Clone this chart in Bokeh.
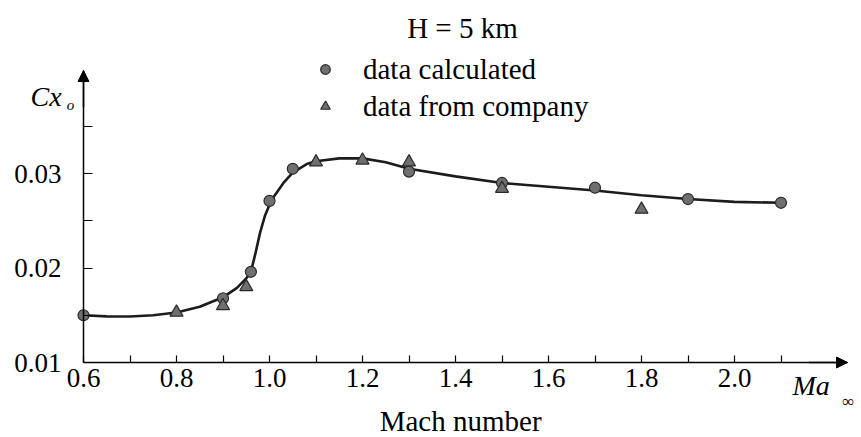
from bokeh.plotting import figure
from bokeh.models import (Label, Arrow, NormalHead, FixedTicker, NumeralTickFormatter,
                          Range1d, LinearAxis, Legend, LegendItem)
from bokeh.embed import file_html
from bokeh.resources import INLINE

# ---- data ----
calc_mach = [0.6, 0.9, 0.96, 1.0, 1.05, 1.3, 1.5, 1.7, 1.9, 2.1]
calc_cx = [0.0150, 0.0168, 0.0196, 0.0271, 0.0305, 0.0302, 0.0290, 0.0285, 0.0273, 0.0269]

comp_mach = [0.8, 0.9, 0.95, 1.1, 1.2, 1.3, 1.5, 1.8]
comp_cx = [0.0153, 0.0160, 0.0180, 0.0312, 0.0314, 0.0312, 0.0284, 0.0262]

fit_mach = [0.6, 0.65, 0.7, 0.75, 0.8, 0.85, 0.9, 0.93, 0.95, 0.96, 0.97, 0.98, 0.99,
            1.0, 1.01, 1.03, 1.05, 1.08, 1.1, 1.15, 1.2, 1.25, 1.3, 1.4, 1.5, 1.6,
            1.7, 1.8, 1.9, 2.0, 2.1]
fit_cx = [0.0150, 0.01488, 0.01487, 0.0150, 0.0153, 0.0159, 0.0169, 0.0179, 0.0189,
          0.0196, 0.0216, 0.0238, 0.0255, 0.0267, 0.0276, 0.0290, 0.0301, 0.0310,
          0.0313, 0.0316, 0.0316, 0.0312, 0.0305, 0.0297, 0.0290, 0.0286, 0.0282,
          0.0277, 0.0273, 0.0270, 0.0269]

x_label_ticks = [0.6, 0.8, 1.0, 1.2, 1.4, 1.6, 1.8, 2.0]
x_minor_ticks = [0.7, 0.9, 1.1, 1.3, 1.5, 1.7, 1.9, 2.1]
y_label_ticks = [0.01, 0.02, 0.03]
y_minor_ticks = [0.015, 0.025, 0.035]

SERIF = "Liberation Serif"

# frame covers the whole canvas; axes are pinned with fixed_location
p = figure(width=861, height=437, output_backend="svg", toolbar_location=None,
           x_range=Range1d(0.4215, 2.2731), y_range=Range1d(0.002063, 0.04831),
           min_border=0, x_axis_type=None, y_axis_type=None)
p.outline_line_color = None
p.background_fill_color = "white"
p.border_fill_color = "white"

xaxis = LinearAxis(ticker=FixedTicker(ticks=x_label_ticks, minor_ticks=x_minor_ticks),
                   formatter=NumeralTickFormatter(format="0.0"),
                   fixed_location=0.01, bounds=(0.6, 2.243),
                   major_tick_in=7, major_tick_out=0, minor_tick_in=7, minor_tick_out=0,
                   axis_line_width=1.5, major_tick_line_width=1.2, minor_tick_line_width=1.2,
                   major_label_text_font=SERIF, major_label_text_font_size="27px",
                   major_label_text_color="black", major_label_standoff=6)
p.add_layout(xaxis, "below")

yaxis = LinearAxis(ticker=FixedTicker(ticks=y_label_ticks, minor_ticks=y_minor_ticks),
                   formatter=NumeralTickFormatter(format="0.00"),
                   fixed_location=0.6, bounds=(0.01, 0.0409),
                   major_tick_in=9, major_tick_out=0, minor_tick_in=9, minor_tick_out=0,
                   axis_line_width=1.5, major_tick_line_width=1.2, minor_tick_line_width=1.2,
                   major_label_text_font=SERIF, major_label_text_font_size="27px",
                   major_label_text_color="black", major_label_standoff=22,
                   major_label_orientation="horizontal")
p.add_layout(yaxis, "left")

# axis arrow heads
p.add_layout(Arrow(end=NormalHead(size=11, fill_color="black", line_color="black"),
                   x_start=2.16, y_start=0.01, x_end=2.243, y_end=0.01,
                   line_width=1.5, line_color="black"))
p.add_layout(Arrow(end=NormalHead(size=11, fill_color="black", line_color="black"),
                   x_start=0.6, y_start=0.037, x_end=0.6, y_end=0.0409,
                   line_width=1.5, line_color="black"))

p.line(fit_mach, fit_cx, line_width=2.6, line_color="#1c1c1c")
r_calc = p.scatter(calc_mach, calc_cx, marker="circle", size=11, fill_color="#6f6f6f",
                   line_color="#2a2a2a", line_width=1.2)
r_comp = p.scatter(comp_mach, comp_cx, marker="triangle", size=13, fill_color="#6f6f6f",
                   line_color="#2a2a2a", line_width=1.2)

legend = Legend(items=[LegendItem(label="data calculated", renderers=[r_calc]),
                       LegendItem(label="data from company", renderers=[r_comp])],
                location=(313, 314), orientation="vertical", padding=0, margin=0,
                spacing=3, glyph_width=24, glyph_height=34, label_height=34,
                label_standoff=26, label_text_font=SERIF, label_text_font_size="29px",
                label_text_color="black", background_fill_alpha=0, border_line_color=None)
p.add_layout(legend)

p.add_layout(Label(x=1.415, y=0.04545, text="H = 5 km", text_align="center",
                   text_baseline="middle", text_font=SERIF, text_font_size="29px",
                   text_color="black"))
p.add_layout(Label(x=1.411, y=0.00386, text="Mach number", text_align="center",
                   text_baseline="middle", text_font=SERIF, text_font_size="29px",
                   text_color="black"))
p.add_layout(Label(x=0.486, y=0.03815, text="Cx", text_align="left",
                   text_baseline="alphabetic", text_font=SERIF, text_font_size="28px",
                   text_font_style="italic", text_color="black"))
p.add_layout(Label(x=0.572, y=0.0372, text="o", text_align="center",
                   text_baseline="middle", text_font=SERIF, text_font_size="15px",
                   text_font_style="italic", text_color="black"))
p.add_layout(Label(x=2.1247, y=0.00757, text="Ma", text_align="left",
                   text_baseline="alphabetic", text_font=SERIF, text_font_size="28px",
                   text_font_style="italic", text_color="black"))
p.add_layout(Label(x=2.245, y=0.00587, text="\u221e", text_align="center",
                   text_baseline="middle", text_font=SERIF, text_font_size="17px",
                   text_color="black"))

open("out.html", "w").write(file_html(p, INLINE))
